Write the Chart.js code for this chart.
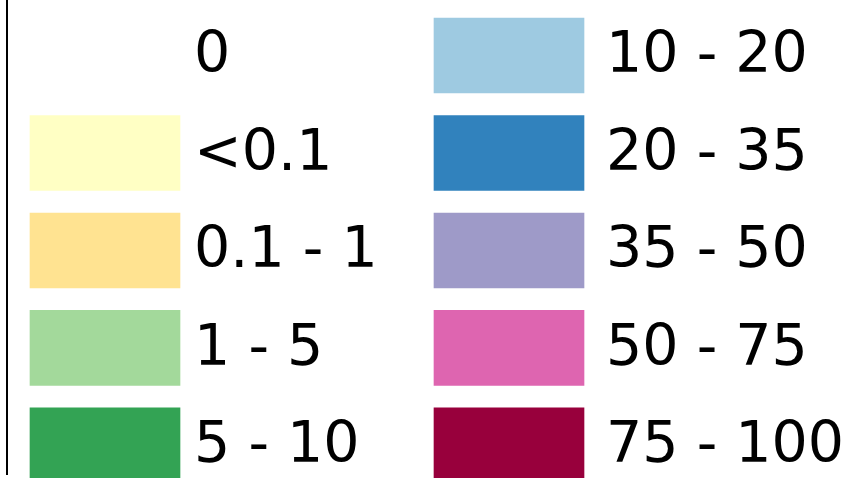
<!DOCTYPE html>
<html>
<head>
<meta charset="utf-8">
<script src="https://cdn.jsdelivr.net/npm/chart.js@4/dist/chart.umd.min.js"></script>
<style>
  html, body { margin: 0; padding: 0; background: #ffffff; }
  #wrap { width: 859px; height: 478px; position: relative; }
</style>
</head>
<body>
<div id="wrap"><canvas id="legend"></canvas></div>
<script>
// legend classes, two columns of five
const leftLabels = ['0', '<0.1', '0.1 - 1', '1 - 5', '5 - 10'];
const leftColors = ['rgba(0,0,0,0)', '#ffffc4', '#ffe391', '#a3d99b', '#33a354'];
const rightLabels = ['10 - 20', '20 - 35', '35 - 50', '50 - 75', '75 - 100'];
const rightColors = ['#9ecae1', '#3182bd', '#9e9ac8', '#de65b0', '#98003c'];

// layout (pixel units on the x scale)
const SWATCH_W = 150;
const LEFT_X = 30;
const RIGHT_X = 434;
const AXIS_X = 7;
const TEXT_GAP = [14, 22];

function swatches(labels, x0) {
    return labels.map((_, i) => ({ y: i, x: [x0, x0 + SWATCH_W] }));
}

// draws the class labels next to each swatch + the left frame line
const labelPlugin = {
    id: 'legendText',
    afterDatasetsDraw(chart) {
        const ctx = chart.ctx;
        const xs = chart.scales.x;
        const area = chart.chartArea;
        ctx.save();
        ctx.strokeStyle = '#000000';
        ctx.lineWidth = 2;
        ctx.beginPath();
        ctx.moveTo(xs.getPixelForValue(AXIS_X), area.top);
        ctx.lineTo(xs.getPixelForValue(AXIS_X), area.bottom - 3);
        ctx.stroke();

        ctx.fillStyle = '#000000';
        ctx.font = '57px "DejaVu Sans"';
        ctx.textBaseline = 'middle';
        const texts = [leftLabels, rightLabels];
        chart.data.datasets.forEach((ds, d) => {
            const meta = chart.getDatasetMeta(d);
            meta.data.forEach((el, i) => {
                const p = el.getProps(['x', 'y'], true);
                ctx.fillText(texts[d][i], p.x + TEXT_GAP[d], p.y + 2);
            });
        });
        ctx.restore();
    }
};

new Chart(document.getElementById('legend'), {
    type: 'bar',
    data: {
        datasets: [
            {
                label: 'left',
                data: swatches(leftLabels, LEFT_X),
                backgroundColor: leftColors,
                borderWidth: 0,
                barThickness: 75,
                grouped: false
            },
            {
                label: 'right',
                data: swatches(rightLabels, RIGHT_X),
                backgroundColor: rightColors,
                borderWidth: 0,
                barThickness: 75,
                grouped: false
            }
        ]
    },
    options: {
        indexAxis: 'y',
        responsive: true,
        maintainAspectRatio: false,
        animation: false,
        layout: { padding: 0 },
        plugins: {
            legend: { display: false },
            tooltip: { enabled: false }
        },
        scales: {
            x: { type: 'linear', min: 0, max: 859, offset: false, display: false },
            y: { type: 'linear', min: -0.569, max: 4.334, reverse: true, offset: false, display: false }
        }
    },
    plugins: [labelPlugin]
});
</script>
</body>
</html>
